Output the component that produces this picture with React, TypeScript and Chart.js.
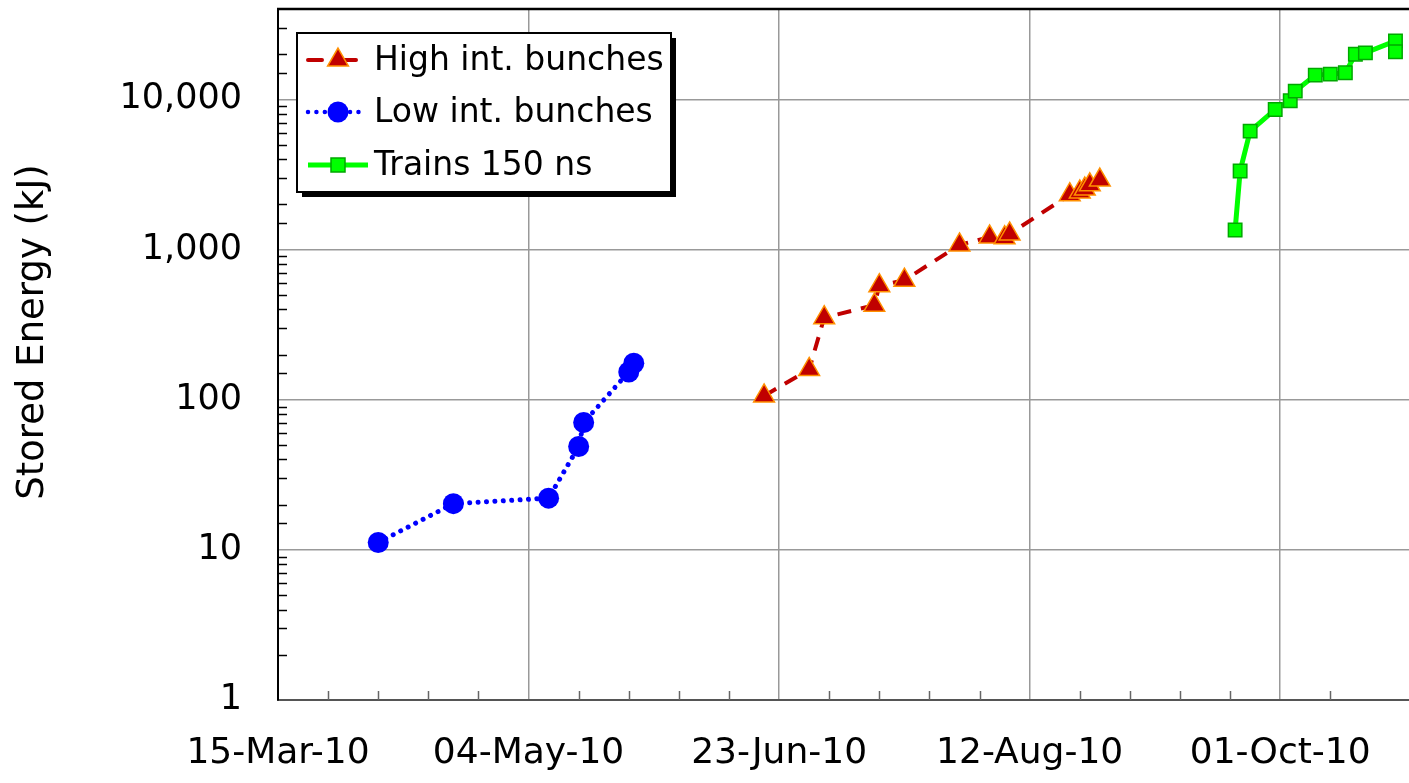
import React, { useEffect, useRef } from 'react';
import { Chart, registerables } from 'chart.js';

Chart.register(...registerables);

// ---- data (dates and stored energy in kJ) ----
const lowDates = ['2010-04-04', '2010-04-19', '2010-05-08', '2010-05-14', '2010-05-15', '2010-05-24', '2010-05-25'];
const lowValues = [11.2, 20.3, 22.1, 48.8, 70.5, 153, 175];

const highDates = [
  '2010-06-20', '2010-06-29', '2010-07-02', '2010-07-12', '2010-07-13', '2010-07-18', '2010-07-29',
  '2010-08-04', '2010-08-07', '2010-08-08', '2010-08-20', '2010-08-22', '2010-08-23', '2010-08-24', '2010-08-26',
];
const highValues = [106, 159, 352, 426, 575, 625, 1073, 1213, 1200, 1270, 2318, 2420, 2530, 2700, 2900];

const trainDates = [
  '2010-09-22', '2010-09-23', '2010-09-25', '2010-09-30', '2010-10-03', '2010-10-04', '2010-10-08',
  '2010-10-11', '2010-10-14', '2010-10-16', '2010-10-18', '2010-10-24', '2010-10-24',
];
const trainValues = [1350, 3335, 6150, 8575, 9790, 11350, 14510, 14730, 15030, 20000, 20420, 24540, 20740];

const seriesLabels = ['High int. bunches', 'Low int. bunches', 'Trains 150 ns'];
const xTickLabels = ['15-Mar-10', '04-May-10', '23-Jun-10', '12-Aug-10', '01-Oct-10'];
const yTickLabels = ['1', '10', '100', '1,000', '10,000'];
const yTitle = 'Stored Energy (kJ)';

const START = Date.UTC(2010, 2, 15);
const X_MAX_DAY = 225.7;
const Y_MIN = 1;
const Y_MAX = 40000;

function dayOf(iso: string): number {
  const [y, m, d] = iso.split('-').map(Number);
  return (Date.UTC(y, m - 1, d) - START) / 86400000;
}
function toPoints(dates: string[], values: number[]) {
  return dates.map((d, i) => ({ x: dayOf(d), y: values[i] }));
}
function isDecade(v: number) {
  const l = Math.log10(v);
  return Math.abs(l - Math.round(l)) < 1e-9;
}

const FONT = "'DejaVu Sans', Verdana, sans-serif";

const decorPlugin = {
  id: 'decor',
  beforeDatasetsDraw(chart: any) {
    const { ctx, chartArea: a, scales } = chart;
    const x = scales.x;
    const y = scales.y;
    ctx.save();
    // y minor ticks (inside)
    ctx.strokeStyle = '#000';
    ctx.lineWidth = 1.5;
    y.ticks.forEach((t: any) => {
      if (isDecade(t.value) || t.value >= Y_MAX) return;
      const py = Math.round(y.getPixelForValue(t.value)) + 0.5;
      ctx.beginPath();
      ctx.moveTo(a.left, py);
      ctx.lineTo(a.left + 9, py);
      ctx.stroke();
    });
    // x minor ticks (inside)
    ctx.strokeStyle = '#666';
    x.ticks.forEach((t: any) => {
      const v = Math.round(t.value);
      if (Math.abs(t.value - v) > 1e-6 || v % 10 !== 0 || v % 50 === 0) return;
      const px = Math.round(x.getPixelForValue(v)) + 0.5;
      ctx.beginPath();
      ctx.moveTo(px, a.bottom);
      ctx.lineTo(px, a.bottom - 9);
      ctx.stroke();
    });
    // top frame
    ctx.strokeStyle = '#000';
    ctx.lineWidth = 2.5;
    ctx.beginPath();
    ctx.moveTo(a.left - 1, a.top);
    ctx.lineTo(a.right, a.top);
    ctx.stroke();
    ctx.restore();
  },
  afterDraw(chart: any) {
    const { ctx, chartArea: a } = chart;
    ctx.save();
    // y-axis title
    ctx.save();
    ctx.translate(33, 332);
    ctx.rotate(-Math.PI / 2);
    ctx.font = `37px ${FONT}`;
    ctx.fillStyle = '#000';
    ctx.textAlign = 'center';
    ctx.textBaseline = 'middle';
    ctx.fillText(yTitle, 0, 0);
    ctx.restore();

    // legend box
    const bx = a.left + 19;
    const by = a.top + 24;
    const bw = 374;
    const bh = 159;
    ctx.fillStyle = '#000';
    ctx.fillRect(bx + 5, by + 5, bw, bh);
    ctx.fillStyle = '#fff';
    ctx.fillRect(bx, by, bw, bh);
    ctx.strokeStyle = '#000';
    ctx.lineWidth = 2;
    ctx.strokeRect(bx, by, bw, bh);

    const rows = [by + 27, by + 79, by + 132];
    const sx = bx + 11;
    const mx = bx + 41;
    const ds = chart.data.datasets;

    // row 1: red dashed + triangle
    let yy = rows[0];
    ctx.strokeStyle = ds[0].borderColor;
    ctx.lineWidth = 4;
    ctx.lineCap = 'round';
    ctx.setLineDash([14, 21]);
    ctx.beginPath();
    ctx.moveTo(sx, yy);
    ctx.lineTo(sx + 48, yy);
    ctx.stroke();
    ctx.setLineDash([]);
    {
      const r = 12;
      ctx.beginPath();
      ctx.moveTo(mx, yy - r);
      ctx.lineTo(mx + r * Math.sin((2 * Math.PI) / 3), yy + r * 0.5);
      ctx.lineTo(mx - r * Math.sin((2 * Math.PI) / 3), yy + r * 0.5);
      ctx.closePath();
      ctx.fillStyle = ds[0].pointBackgroundColor;
      ctx.fill();
      ctx.strokeStyle = ds[0].pointBorderColor;
      ctx.lineWidth = 1.5;
      ctx.stroke();
    }

    // row 2: blue dotted + circle
    yy = rows[1];
    ctx.strokeStyle = ds[1].borderColor;
    ctx.lineWidth = 4.5;
    ctx.lineCap = 'round';
    ctx.setLineDash([0.01, 8.4]);
    ctx.beginPath();
    ctx.moveTo(sx, yy);
    ctx.lineTo(sx + 58, yy);
    ctx.stroke();
    ctx.setLineDash([]);
    ctx.beginPath();
    ctx.arc(mx, yy, 10.5, 0, Math.PI * 2);
    ctx.fillStyle = ds[1].pointBackgroundColor;
    ctx.fill();

    // row 3: green solid + square
    yy = rows[2];
    ctx.strokeStyle = ds[2].borderColor;
    ctx.lineWidth = 5;
    ctx.lineCap = 'butt';
    ctx.beginPath();
    ctx.moveTo(sx, yy);
    ctx.lineTo(sx + 60, yy);
    ctx.stroke();
    ctx.fillStyle = ds[2].pointBackgroundColor;
    ctx.fillRect(mx - 7, yy - 7, 14, 14);
    ctx.strokeStyle = ds[2].pointBorderColor;
    ctx.lineWidth = 1.5;
    ctx.strokeRect(mx - 7, yy - 7, 14, 14);

    // labels
    ctx.fillStyle = '#000';
    ctx.font = `33px ${FONT}`;
    ctx.textAlign = 'left';
    ctx.textBaseline = 'middle';
    seriesLabels.forEach((lab, i) => {
      ctx.fillText(lab, bx + 77, rows[i] + 1);
    });
    ctx.restore();
  },
};

export default function App() {
  const canvasRef = useRef<HTMLCanvasElement | null>(null);

  useEffect(() => {
    const canvas = canvasRef.current;
    if (!canvas) return;
    const chart = new Chart(canvas, {
      type: 'line',
      data: {
        datasets: [
          {
            label: seriesLabels[0],
            data: toPoints(highDates, highValues),
            borderColor: '#C00000',
            borderWidth: 4,
            borderDash: [14, 10],
            pointStyle: 'triangle',
            pointRadius: 12,
            pointBackgroundColor: '#C00000',
            pointBorderColor: '#FF9000',
            pointBorderWidth: 1.5,
            tension: 0,
          },
          {
            label: seriesLabels[1],
            data: toPoints(lowDates, lowValues),
            borderColor: '#0000FF',
            borderWidth: 5,
            borderDash: [0.01, 8.4],
            borderCapStyle: 'round',
            pointStyle: 'circle',
            pointRadius: 10.5,
            pointBackgroundColor: '#0000FF',
            pointBorderColor: '#0000FF',
            pointBorderWidth: 0,
            tension: 0,
          },
          {
            label: seriesLabels[2],
            data: toPoints(trainDates, trainValues),
            borderColor: '#00FF00',
            borderWidth: 5,
            pointStyle: 'rect',
            pointRadius: 9.5,
            pointBackgroundColor: '#00FF00',
            pointBorderColor: '#00A800',
            pointBorderWidth: 1.5,
            tension: 0,
          },
        ],
      } as any,
      options: {
        responsive: false,
        animation: false,
        events: [],
        layout: { autoPadding: false, padding: { top: 9, left: 0, right: 0, bottom: 0 } },
        plugins: {
          legend: { display: false },
          tooltip: { enabled: false },
          title: { display: false },
        },
        scales: {
          x: {
            type: 'linear',
            min: 0,
            max: X_MAX_DAY,
            ticks: {
              stepSize: 10,
              autoSkip: false,
              maxRotation: 0,
              minRotation: 0,
              padding: 32,
              color: '#000',
              font: { family: FONT, size: 36 },
              callback: (v: any) => {
                const n = Number(v);
                if (Math.abs(n - Math.round(n)) > 1e-6) return '';
                const r = Math.round(n);
                return r % 50 === 0 && xTickLabels[r / 50] !== undefined ? xTickLabels[r / 50] : '';
              },
            },
            grid: {
              drawTicks: false,
              lineWidth: 1.5,
              color: (c: any) => {
                const v = c.tick ? c.tick.value : -1;
                return v > 0 && Math.abs(v % 50) < 1e-6 ? '#999999' : 'rgba(0,0,0,0)';
              },
            },
            border: { color: '#555', width: 2 },
            afterFit: (s: any) => {
              s.height = 83;
              s.paddingLeft = 0;
              s.paddingRight = 0;
            },
          },
          y: {
            type: 'logarithmic',
            min: Y_MIN,
            max: Y_MAX,
            ticks: {
              autoSkip: false,
              padding: 36,
              color: '#000',
              font: { family: FONT, size: 35 },
              callback: (v: any) => {
                const n = Number(v);
                if (!isDecade(n)) return '';
                const idx = Math.round(Math.log10(n));
                return yTickLabels[idx] ?? '';
              },
            },
            grid: {
              drawTicks: false,
              lineWidth: 1.5,
              color: (c: any) => {
                const v = c.tick ? c.tick.value : 0;
                return v > 1 && v < Y_MAX && isDecade(v) ? '#999999' : 'rgba(0,0,0,0)';
              },
            },
            border: { color: '#000', width: 2 },
            afterFit: (s: any) => {
              s.width = 278;
              s.paddingTop = 0;
              s.paddingBottom = 0;
            },
          },
        },
      } as any,
      plugins: [decorPlugin],
    });
    return () => chart.destroy();
  }, []);

  return (
    <div style={{ position: 'fixed', left: 0, top: 0, width: 1409, height: 783, background: '#fff' }}>
      <canvas ref={canvasRef} width={1409} height={783} style={{ display: 'block' }} />
    </div>
  );
}
